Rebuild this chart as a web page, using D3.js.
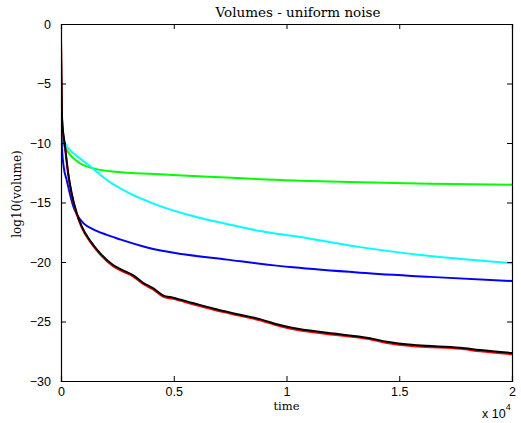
<!DOCTYPE html>
<html>
  <head>
    <meta charset="UTF-8">
    <title>Volumes - uniform noise</title>
    <script src="https://cdn.jsdelivr.net/npm/d3@7"></script>
    <style>
      body { margin: 0; background: #fff; }
      .tick text { font-family: "Liberation Sans", Arial, sans-serif; font-size: 12.5px; fill: #000; }
      .lbl { font-family: "DejaVu Serif", "Liberation Serif", serif; fill: #000; }
    </style>
  </head>
  <body>
    <svg width="521" height="423"></svg>
    <script>
    // time in units of 1e4, values are log10(volume)
    var xTicks = [0, 0.5, 1, 1.5, 2];
    var yTicks = [0, -5, -10, -15, -20, -25, -30];

    var greenSeries = [[0, -9.0], [0.004, -9.9], [0.018, -10.35], [0.04, -11.0], [0.084, -11.7], [0.143, -12.13],
      [0.291, -12.5], [0.439, -12.63], [0.587, -12.77], [0.735, -12.9], [0.882, -13.05], [1.06, -13.17],
      [1.326, -13.3], [1.636, -13.42], [2.0, -13.5]];

    var cyanSeries = [[0, -7.5], [0.005, -8.65], [0.018, -10.0], [0.04, -10.6], [0.07, -11.1], [0.129, -11.95],
      [0.217, -13.3], [0.291, -14.1], [0.439, -15.3], [0.587, -16.15], [0.735, -16.8], [0.882, -17.4],
      [1.06, -17.9], [1.326, -18.75], [1.636, -19.5], [2.0, -20.1]];

    var blueSeries = [[0, -3.7], [0.003, -10.0], [0.012, -12.0], [0.025, -13.1], [0.055, -15.35], [0.07, -16.0],
      [0.1, -16.75], [0.143, -17.25], [0.2, -17.7], [0.262, -18.1], [0.386, -18.8], [0.506, -19.25],
      [0.736, -19.8], [1.029, -20.45], [1.326, -20.9], [1.636, -21.25], [2.0, -21.6]];

    var redSeries = [[0, -1.3], [0.005, -8.2], [0.018, -10.4], [0.032, -12.65], [0.047, -14.3], [0.07, -16.0],
      [0.092, -17.1], [0.129, -18.3], [0.173, -19.35], [0.231, -20.35], [0.275, -20.8], [0.319, -21.2],
      [0.364, -21.85], [0.408, -22.3], [0.452, -22.9], [0.497, -23.1], [0.585, -23.55], [0.674, -24.0],
      [0.763, -24.4], [0.882, -24.9], [0.971, -25.4], [1.03, -25.65], [1.18, -26.05], [1.37, -26.5],
      [1.445, -26.8], [1.58, -27.1], [1.77, -27.3], [1.858, -27.5], [2.0, -27.75]];

    var blackSeries = [[0, -1.2], [0.005, -8.0], [0.018, -10.3], [0.032, -12.55], [0.047, -14.2], [0.07, -15.9],
      [0.092, -17.0], [0.129, -18.2], [0.173, -19.25], [0.231, -20.25], [0.275, -20.7], [0.319, -21.1],
      [0.364, -21.75], [0.408, -22.2], [0.452, -22.8], [0.497, -23.0], [0.585, -23.45], [0.674, -23.9],
      [0.763, -24.3], [0.882, -24.8], [0.971, -25.3], [1.03, -25.55], [1.18, -25.95], [1.37, -26.4],
      [1.445, -26.7], [1.58, -27.0], [1.77, -27.2], [1.858, -27.4], [2.0, -27.65]];

    var series = [
      {data: greenSeries, color: "#00ff00"},
      {data: cyanSeries, color: "#00ffff"},
      {data: blueSeries, color: "#0000ff"},
      {data: redSeries, color: "#ff0000"},
      {data: blackSeries, color: "#000000"}
    ];

    var svg = d3.select("svg"),
      margin = {top: 24, right: 9, bottom: 42, left: 61},
      width = +svg.attr("width") - margin.left - margin.right,
      height = +svg.attr("height") - margin.top - margin.bottom;

    var x = d3.scaleLinear().domain([0, 2]).range([margin.left, margin.left + width]);
    var y = d3.scaleLinear().domain([-30, 0]).range([margin.top + height, margin.top]);

    // curves, clipped to the axes box
    svg.append("clipPath").attr("id", "clip")
      .append("rect").attr("x", margin.left).attr("y", margin.top)
      .attr("width", width).attr("height", height);

    var line = d3.line()
      .x(function(d) { return x(d[0]); })
      .y(function(d) { return y(d[1]); })
      .curve(d3.curveMonotoneX);

    svg.append("g").attr("clip-path", "url(#clip)")
      .selectAll("path")
      .data(series)
      .enter().append("path")
      .attr("d", function(d) { return line(d.data); })
      .attr("fill", "none")
      .attr("stroke", function(d) { return d.color; })
      .attr("stroke-width", 2)
      .attr("stroke-linejoin", "round");

    // axes with inward ticks on all four sides
    var axBottom = svg.append("g").attr("transform", "translate(0," + (margin.top + height) + ")")
      .call(d3.axisBottom(x).tickValues(xTicks).tickSize(-5).tickPadding(10)
        .tickFormat(function(d) { return String(d); }));
    var axTop = svg.append("g").attr("transform", "translate(0," + margin.top + ")")
      .call(d3.axisTop(x).tickValues(xTicks).tickSize(-5).tickFormat(""));
    var axLeft = svg.append("g").attr("transform", "translate(" + margin.left + ",0)")
      .call(d3.axisLeft(y).tickValues(yTicks).tickSize(-5).tickPadding(10)
        .tickFormat(function(d) { return d < 0 ? "\u2212" + Math.abs(d) : String(d); }));
    var axRight = svg.append("g").attr("transform", "translate(" + (margin.left + width) + ",0)")
      .call(d3.axisRight(y).tickValues(yTicks).tickSize(-5).tickFormat(""));

    [axBottom, axTop, axLeft, axRight].forEach(function(g) {
      g.select(".domain").attr("stroke", "#000").attr("stroke-width", 1.2);
      g.selectAll(".tick line").attr("stroke", "#000").attr("stroke-width", 1);
    });
    axBottom.selectAll(".tick text").attr("y", 6).attr("dy", "0.71em");

    // titles
    svg.append("text").attr("class", "lbl")
      .attr("x", 298).attr("y", 17)
      .attr("text-anchor", "middle").attr("font-size", 13.5)
      .text("Volumes - uniform noise");

    svg.append("text").attr("class", "lbl")
      .attr("x", x(1)).attr("y", 410)
      .attr("text-anchor", "middle").attr("font-size", 11.5)
      .text("time");

    svg.append("text").attr("class", "lbl")
      .attr("transform", "translate(21,194) rotate(-90)")
      .attr("text-anchor", "middle").attr("font-size", 12)
      .text("log10(volume)");

    var exp = svg.append("text")
      .attr("x", 482).attr("y", 418)
      .attr("font-family", "Liberation Sans, Arial, sans-serif")
      .attr("font-size", 12.5);
    exp.append("tspan").text("x 10");
    exp.append("tspan").attr("dy", -8).attr("font-size", 9).text("4");
    </script>
  </body>
</html>
